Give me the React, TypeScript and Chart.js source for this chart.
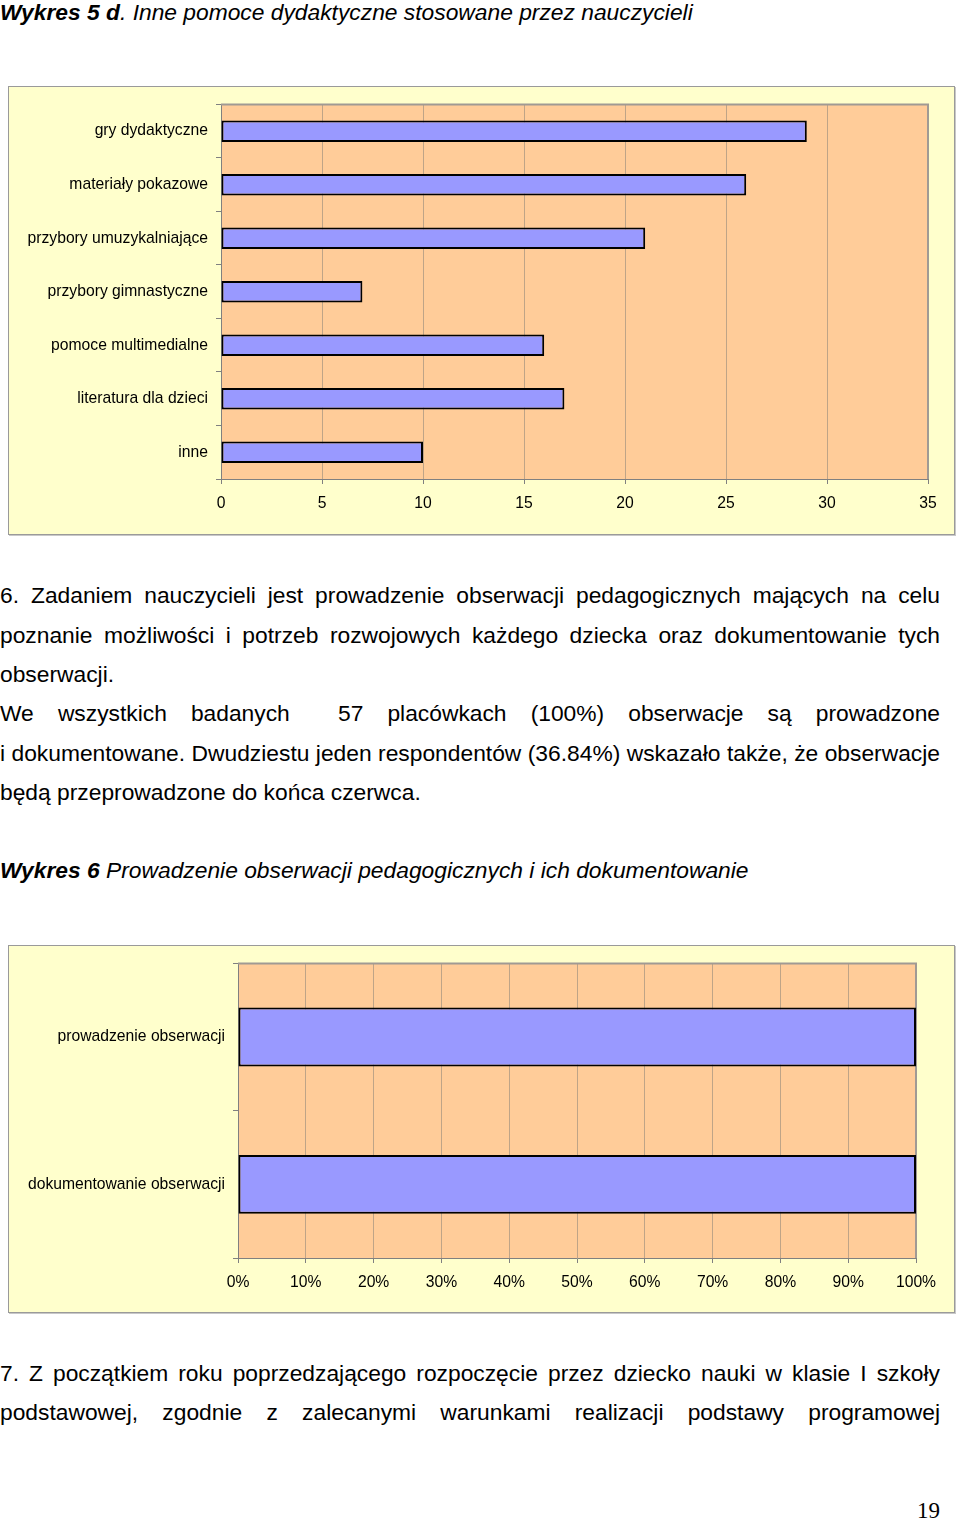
import React, { useEffect, useRef } from "react";
import { Chart, registerables } from "chart.js";

Chart.register(...registerables);

// ---- data ----
const chart1Categories = [
  "gry dydaktyczne",
  "materiały pokazowe",
  "przybory umuzykalniające",
  "przybory gimnastyczne",
  "pomoce multimedialne",
  "literatura dla dzieci",
  "inne",
];
const chart1Values = [29, 26, 21, 7, 16, 17, 10];
const chart1AxisMax = 35;
const chart1Step = 5;

const chart2Categories = ["prowadzenie obserwacji", "dokumentowanie obserwacji"];
const chart2Values = [100, 100];
const chart2AxisMax = 100;
const chart2Step = 10;

const FONT = "'Liberation Sans', Arial, sans-serif";

const plotBgPlugin = {
  id: "plotBg",
  beforeDraw(chart: any) {
    const { ctx, chartArea: a } = chart;
    ctx.save();
    ctx.fillStyle = "#FFCC99";
    ctx.fillRect(a.left, a.top, a.right - a.left, a.bottom - a.top);
    ctx.restore();
  },
  beforeDatasetsDraw(chart: any) {
    const { ctx, chartArea: a } = chart;
    ctx.save();
    ctx.strokeStyle = "#A09A94";
    ctx.lineWidth = 2;
    ctx.beginPath();
    ctx.moveTo(a.left, a.top);
    ctx.lineTo(a.right, a.top);
    ctx.lineTo(a.right, a.bottom);
    ctx.stroke();
    ctx.restore();
  },
};

type BarProps = {
  categories: string[];
  values: number[];
  max: number;
  step: number;
  percent: boolean;
  width: number;
  height: number;
  axisWidth: number;
  axisHeight: number;
  padTop: number;
  padRight: number;
};

function HBar(p: BarProps) {
  const ref = useRef<HTMLCanvasElement>(null);
  useEffect(() => {
    if (!ref.current) return;
    const chart = new Chart(ref.current, {
      type: "bar",
      data: {
        labels: p.categories,
        datasets: [
          {
            data: p.values,
            backgroundColor: "#9999FF",
            borderColor: "#000000",
            borderWidth: 2,
            borderSkipped: false,
            barPercentage: 0.4,
            categoryPercentage: 1,
          },
        ],
      },
      options: {
        indexAxis: "y",
        responsive: false,
        animation: false,
        layout: { padding: { top: p.padTop, right: p.padRight, left: 0, bottom: 0 } },
        plugins: { legend: { display: false }, tooltip: { enabled: false } },
        scales: {
          x: {
            min: 0,
            max: p.max,
            ticks: {
              stepSize: p.step,
              color: "#000",
              padding: 10,
              maxRotation: 0,
              font: { family: FONT, size: 15.7 },
              callback: (v: any) => (p.percent ? `${v}%` : `${v}`),
            },
            grid: {
              color: "#BFA487",
              tickColor: "#808080",
              tickLength: 5,
              drawTicks: true,
            },
            border: { color: "#808080", width: 1 },
            afterFit: (s: any) => {
              s.height = p.axisHeight;
            },
          },
          y: {
            ticks: {
              color: "#000",
              padding: 8,
              font: { family: FONT, size: 15.7 },
            },
            grid: {
              drawOnChartArea: false,
              drawTicks: true,
              tickLength: 5,
              color: "#808080",
            },
            border: { color: "#808080", width: 1 },
            afterFit: (s: any) => {
              s.width = p.axisWidth;
            },
          },
        },
      },
      plugins: [plotBgPlugin],
    });
    return () => chart.destroy();
  }, []);
  return <canvas ref={ref} width={p.width} height={p.height} style={{ display: "block" }} />;
}

const textBase: React.CSSProperties = {
  position: "absolute",
  left: 0,
  fontFamily: FONT,
  fontSize: 22.8,
  lineHeight: "26px",
  color: "#000",
  whiteSpace: "nowrap",
};

function Line({ y, text, justify }: { y: number; text: string; justify?: boolean }) {
  return (
    <div
      style={{
        ...textBase,
        top: y - 14,
        width: 940,
        whiteSpace: justify ? "normal" : "nowrap",
        textAlign: justify ? "justify" : "left",
        textAlignLast: justify ? "justify" : "left",
        height: 26,
        overflow: "visible",
      }}
    >
      {text}
    </div>
  );
}

const boxStyle = (x: number, y: number, w: number, h: number): React.CSSProperties => ({
  position: "absolute",
  left: x,
  top: y,
  width: w,
  height: h,
  boxSizing: "border-box",
  border: "1px solid #9A9A9A",
  background: "#FFFFCC",
  boxShadow: "1px 1px 0 #C8C8C8",
});

export default function App() {
  useEffect(() => {
    document.body.style.margin = "0";
  }, []);
  return (
    <div style={{ position: "relative", width: 960, height: 1522, background: "#fff", overflow: "hidden" }}>
      <div style={{ ...textBase, top: -1, fontStyle: "italic" }}>
        <b>Wykres 5 d</b>. Inne pomoce dydaktyczne stosowane przez nauczycieli
      </div>

      <div style={boxStyle(8, 86, 947, 449)}>
        <HBar
          categories={chart1Categories}
          values={chart1Values}
          max={chart1AxisMax}
          step={chart1Step}
          percent={false}
          width={945}
          height={447}
          axisWidth={212}
          axisHeight={55}
          padTop={15}
          padRight={26}
        />
      </div>

      <Line y={596} justify text="6. Zadaniem nauczycieli jest prowadzenie obserwacji pedagogicznych mających na celu" />
      <Line y={636} justify text="poznanie możliwości i potrzeb rozwojowych każdego dziecka oraz dokumentowanie tych" />
      <Line y={675} text="obserwacji." />
      <Line y={714} justify text={"We wszystkich badanych\u00a0 57 placówkach (100%) obserwacje są prowadzone"} />
      <Line y={754} justify text="i dokumentowane. Dwudziestu jeden respondentów (36.84%) wskazało także, że obserwacje" />
      <Line y={793} text="będą przeprowadzone do końca czerwca." />

      <div style={{ ...textBase, top: 871 - 14, fontStyle: "italic" }}>
        <b>Wykres 6</b> Prowadzenie obserwacji pedagogicznych i ich dokumentowanie
      </div>

      <div style={boxStyle(8, 945, 947, 368)}>
        <HBar
          categories={chart2Categories}
          values={chart2Values}
          max={chart2AxisMax}
          step={chart2Step}
          percent={true}
          width={945}
          height={366}
          axisWidth={229}
          axisHeight={54}
          padTop={16}
          padRight={38}
        />
      </div>

      <Line y={1374} justify text="7. Z początkiem roku poprzedzającego rozpoczęcie przez dziecko nauki w klasie I szkoły" />
      <Line y={1413} justify text="podstawowej, zgodnie z zalecanymi warunkami realizacji podstawy programowej" />

      <div
        style={{
          position: "absolute",
          left: 917,
          top: 1512 - 14,
          fontFamily: "'Liberation Serif', 'Times New Roman', serif",
          fontSize: 23,
          lineHeight: "26px",
        }}
      >
        19
      </div>
    </div>
  );
}
